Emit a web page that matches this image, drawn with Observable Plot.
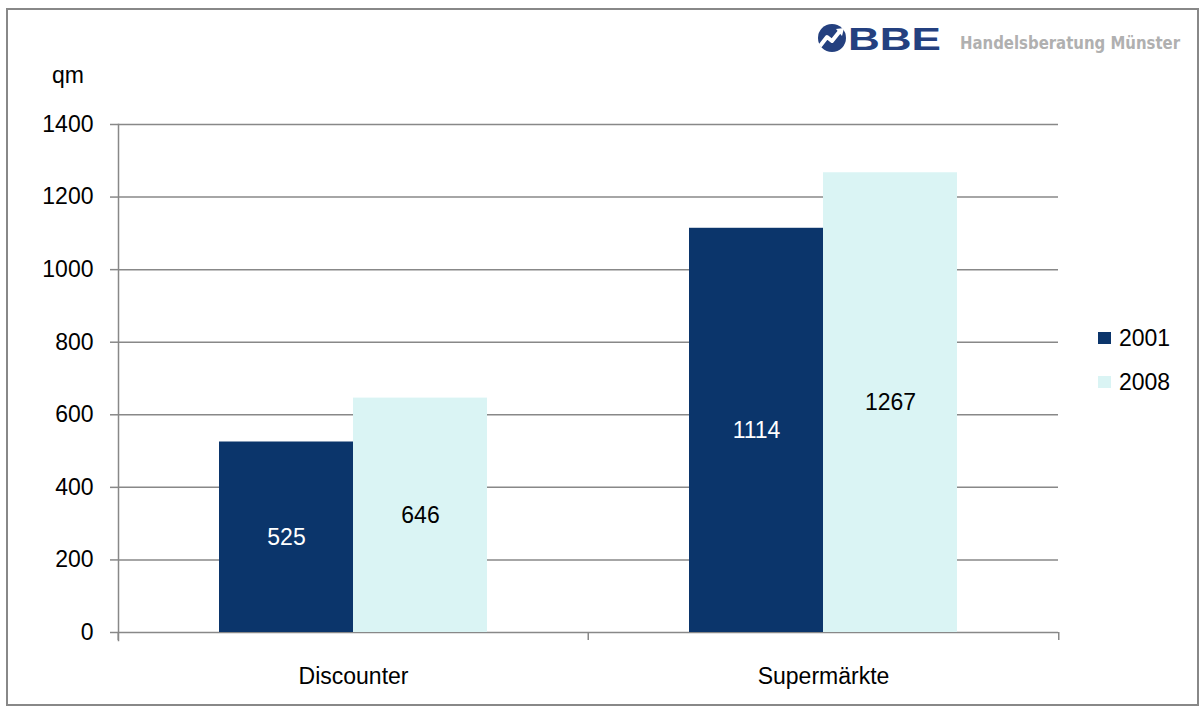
<!DOCTYPE html>
<html>
<head>
<meta charset="utf-8">
<script src="https://cdn.jsdelivr.net/npm/d3@7"></script>
<script src="https://cdn.jsdelivr.net/npm/@observablehq/plot@0.6"></script>
<style>
  html, body { margin: 0; padding: 0; background: #fff; }
  #wrap { position: relative; width: 1203px; height: 711px; overflow: hidden; font-family: "Liberation Sans", Arial, sans-serif; }
  #border { position: absolute; left: 6px; top: 8px; width: 1193px; height: 698px; border: 2px solid #888; box-sizing: border-box; }
  #chart { position: absolute; left: 0; top: 0; }
  #unit { position: absolute; left: 52px; top: 61px; font-size: 23px; line-height: 28px; color: #000; }
  #legend { position: absolute; left: 1098px; top: 324px; font-size: 23px; color: #000; }
  .row { display: flex; align-items: center; height: 28px; margin-bottom: 16px; }
  .sw { width: 13px; height: 12px; margin-right: 8px; }
  #logo { position: absolute; left: 812px; top: 20px; }
</style>
</head>
<body>
<div id="wrap">
  <div id="border"></div>
  <div id="chart"></div>
  <div id="unit">qm</div>
  <div id="legend"></div>
  <svg id="logo" width="380" height="40" viewBox="0 0 380 40">
    <circle cx="20" cy="18" r="14" fill="#24407f"/>
    <path d="M8 26 L15 17 L20 21 L28 11" fill="none" stroke="#fff" stroke-width="4" stroke-linejoin="round"/>
    <path d="M24 9 L32 8 L30 16 Z" fill="#fff"/>
    <text x="36" y="30" font-family="Liberation Sans, Arial" font-weight="bold" font-size="31" fill="#24407f" textLength="93" lengthAdjust="spacingAndGlyphs">BBE</text>
    <text x="148" y="29" font-family="DejaVu Sans Condensed, DejaVu Sans" font-weight="bold" font-size="17" fill="#b0b0b0" textLength="220" lengthAdjust="spacingAndGlyphs">Handelsberatung Münster</text>
  </svg>
</div>
<script>
const categories = ["Discounter", "Supermärkte"];
const years = ["2001", "2008"];
const values2001 = [525, 1114];
const values2008 = [646, 1267];
const yTicks = [0, 200, 400, 600, 800, 1000, 1200, 1400];

const seriesValues = [values2001, values2008];
const rows = [];
categories.forEach((c, i) => years.forEach((y, j) => rows.push({category: c, year: y, value: seriesValues[j][i]})));

const colors = ["#0b356b", "#daf4f4"];
const labelFill = ["#ffffff", "#000000"];

const W = 1203, H = 711, ML = 117, MR = 145, MT = 124, MB = 79;
const step = (W - ML - MR) / categories.length;
const grey = "#888888";

const chart = Plot.plot({
  width: W, height: H,
  marginLeft: ML, marginRight: MR, marginTop: MT, marginBottom: MB,
  style: {fontFamily: "Liberation Sans, Arial, sans-serif", fontSize: "23px", color: "#000", background: "transparent", overflow: "visible"},
  fx: {domain: categories, padding: 0, label: null},
  x: {domain: years, paddingInner: 0, paddingOuter: 0.745, axis: null},
  y: {domain: [0, 1400], label: null},
  color: {domain: years, range: colors},
  marks: [
    Plot.gridY(yTicks, {stroke: grey, strokeOpacity: 1, strokeWidth: 1.5}),
    Plot.barY(rows, {fx: "category", x: "year", y: "value", fill: "year"}),
    ...years.map((yr, j) => Plot.text(rows.filter(d => d.year === yr), {
      fx: "category", x: "year", y: d => d.value / 2, text: d => String(d.value),
      fill: labelFill[j], fontSize: 23
    })),
    Plot.axisY(yTicks, {tickSize: 8, tickPadding: 17, tickFormat: d => String(d), stroke: grey, strokeWidth: 1.5, strokeOpacity: 1, fill: "#000", fontSize: 23, label: null}),
    Plot.axisFx({anchor: "bottom", tickSize: 0, tickPadding: 35, fill: "#000", fontSize: 23, label: null}),
    Plot.axisFx({anchor: "bottom", text: null, tickSize: 8, dx: -step / 2, stroke: grey, strokeWidth: 1.5, strokeOpacity: 1, label: null}),
    Plot.axisFx({anchor: "bottom", ticks: [categories[categories.length - 1]], text: null, tickSize: 8, dx: step / 2, stroke: grey, strokeWidth: 1.5, strokeOpacity: 1, label: null}),
    Plot.frame({anchor: "left", facet: "super", stroke: grey, strokeWidth: 1.5, strokeOpacity: 1, insetBottom: -8})
  ]
});
document.getElementById("chart").appendChild(chart);

const legend = document.getElementById("legend");
years.forEach((yr, j) => {
  const row = document.createElement("div");
  row.className = "row";
  const sw = document.createElement("span");
  sw.className = "sw";
  sw.style.background = colors[j];
  const t = document.createElement("span");
  t.textContent = yr;
  row.appendChild(sw);
  row.appendChild(t);
  legend.appendChild(row);
});
</script>
</body>
</html>
